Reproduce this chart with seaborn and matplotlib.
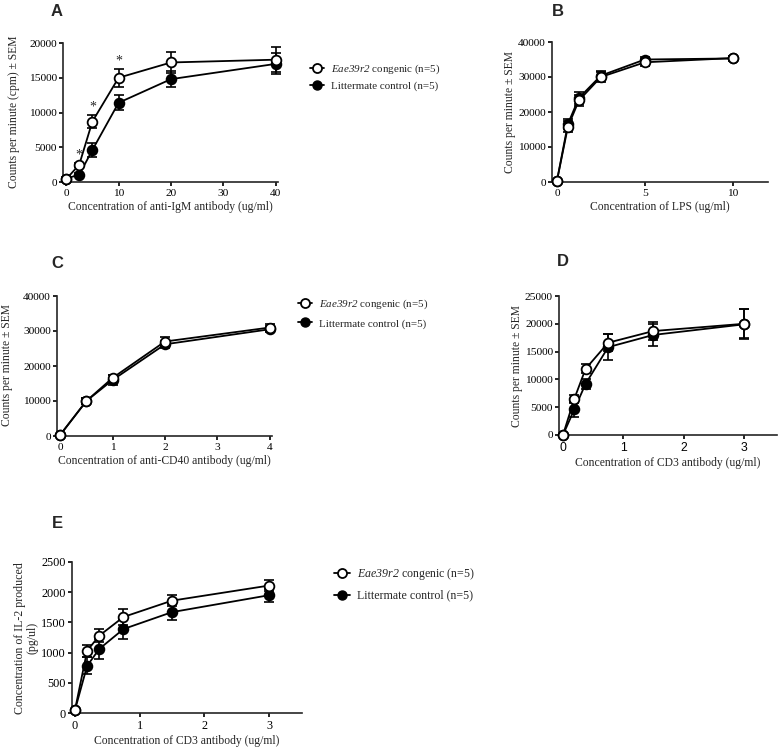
#panels A-E: proliferation / IL-2 dose responses, congenic vs littermate control

import numpy as np
import matplotlib
matplotlib.use("Agg")
import matplotlib.pyplot as plt
import seaborn as sns
from matplotlib.lines import Line2D

##### data #####

# A - anti-IgM
a_x = [0, 2.5, 5, 10, 20, 40]
a_cong = [400, 2500, 8700, 15000, 17200, 17600]
a_cong_err = [150, 300, 1000, 1300, 1450, 1800]
a_ctrl = [500, 1050, 4600, 11400, 14800, 17000]
a_ctrl_err = [150, 250, 950, 1100, 1100, 1500]
a_sig_x = [2.5, 5, 10]

# B - LPS
b_x = [0, 0.625, 1.25, 2.5, 5, 10]
b_cong = [300, 15800, 23300, 30000, 34200, 35400]
b_cong_err = [150, 1600, 1500, 1300, 1000, 600]
b_ctrl = [300, 16600, 24000, 30400, 35000, 35300]
b_ctrl_err = [150, 1500, 1600, 1200, 800, 600]

# C - anti-CD40
c_x = [0, 0.5, 1, 2, 4]
c_cong = [300, 10000, 16600, 27000, 31000]
c_cong_err = [150, 800, 900, 1300, 1000]
c_ctrl = [300, 10000, 16000, 26200, 30500]
c_ctrl_err = [150, 800, 1300, 1000, 900]

# D - CD3 proliferation
d_x = [0, 0.1875, 0.375, 0.75, 1.5, 3]
d_cong = [0, 6500, 11900, 16600, 18700, 20000]
d_cong_err = [100, 700, 800, 1500, 1600, 2600]
d_ctrl = [0, 4600, 9200, 15800, 18000, 19900]
d_ctrl_err = [100, 1300, 900, 2400, 2000, 2700]

# E - CD3 IL-2
e_x = [0, 0.1875, 0.375, 0.75, 1.5, 3]
e_cong = [50, 1030, 1280, 1590, 1860, 2110]
e_cong_err = [10, 100, 110, 125, 95, 95]
e_ctrl = [50, 780, 1060, 1390, 1670, 1950]
e_ctrl_err = [10, 140, 160, 170, 130, 110]

# gene name is italic: math rm font is pointed at the italic face below
cong_label = r"$\mathrm{Eae39r2}$ congenic (n=5)"
ctrl_label = "Littermate control (n=5)"

##### style #####
sns.set_theme(style="ticks")
plt.rcParams['font.family'] = ['Liberation Serif', 'DejaVu Serif']
plt.rcParams['mathtext.fontset'] = 'custom'
plt.rcParams['mathtext.it'] = 'Liberation Serif:italic'
plt.rcParams['mathtext.rm'] = 'Liberation Serif:italic'
plt.rcParams['axes.linewidth'] = 1.2
plt.rcParams['xtick.major.width'] = 1.2
plt.rcParams['ytick.major.width'] = 1.2
plt.rcParams['xtick.major.size'] = 3
plt.rcParams['ytick.major.size'] = 3
plt.rcParams['xtick.major.pad'] = 2
plt.rcParams['ytick.major.pad'] = 1.5

W, H = 778, 754
fig = plt.figure(figsize=(W / 100, H / 100), dpi=100)

LABEL_FS = 8.4
TICK_FS = 8.2


def add_axes(left, right, top, bottom):
    return fig.add_axes([left / W, 1 - bottom / H, (right - left) / W, (bottom - top) / H])


def draw_series(ax, x, y, err, filled):
    face = 'black' if filled else 'white'
    ax.errorbar(x, y, yerr=err, fmt='none', ecolor='black', elinewidth=1.2,
                capsize=3.3, capthick=1.2, clip_on=False, zorder=2)
    sns.lineplot(x=x, y=y, ax=ax, color='black', linewidth=1.3, marker='o',
                 markersize=7, markerfacecolor=face, markeredgecolor='black',
                 markeredgewidth=1.3, clip_on=False, zorder=3 if filled else 4)


def panel(ax, x, cong, cong_err, ctrl, ctrl_err, xlim, ylim, xticks, yticks,
          xlabel, tick_fs=TICK_FS):
    draw_series(ax, x, ctrl, ctrl_err, True)
    draw_series(ax, x, cong, cong_err, False)
    ax.set_xlim(*xlim)
    ax.set_ylim(*ylim)
    ax.set_xticks(xticks)
    ax.set_yticks(yticks)
    ax.tick_params(labelsize=tick_fs, colors='black')
    ax.set_xlabel(xlabel, fontsize=LABEL_FS, labelpad=2)
    ax.set_ylabel("")
    sns.despine(ax=ax)


def fig_text(x, y, s, **kw):
    fig.text(x / W, 1 - y / H, s, **kw)


def legend(x, y, fs=7.9, spacing=0.45):
    handles = [
        Line2D([], [], color='black', lw=1.3, marker='o', markersize=6.5,
               markerfacecolor='white', markeredgecolor='black', markeredgewidth=1.3),
        Line2D([], [], color='black', lw=1.3, marker='o', markersize=6.5,
               markerfacecolor='black', markeredgecolor='black'),
    ]
    fig.legend(handles, [cong_label, ctrl_label], loc='upper left',
               bbox_to_anchor=(x / W, 1 - y / H), frameon=False, fontsize=fs,
               handlelength=1.3, handletextpad=0.6, labelspacing=spacing,
               borderpad=0, borderaxespad=0)


# A
axA = add_axes(63, 278, 43, 182)
panel(axA, a_x, a_cong, a_cong_err, a_ctrl, a_ctrl_err, (-0.6, 40.4), (0, 20000),
      [0, 10, 20, 30, 40], [0, 5000, 10000, 15000, 20000],
      "Concentration of anti-IgM antibody (ug/ml)")
for sx in a_sig_x:
    i = a_x.index(sx)
    axA.text(sx, a_cong[i] + a_cong_err[i] + 150, "*", ha='center', va='bottom',
             fontsize=10)
fig_text(14, 112, "Counts per minute (cpm) \u00b1 SEM", rotation=90, ha='center',
         va='center', fontsize=LABEL_FS)
legend(310, 63)

# B
axB = add_axes(552, 768, 42, 182)
panel(axB, b_x, b_cong, b_cong_err, b_ctrl, b_ctrl_err, (-0.28, 12), (0, 40000),
      [0, 5, 10], [0, 10000, 20000, 30000, 40000],
      "Concentration of LPS (ug/ml)")
fig_text(510, 112, "Counts per minute \u00b1 SEM", rotation=90, ha='center',
         va='center', fontsize=LABEL_FS)

# C
axC = add_axes(57, 272, 296, 436)
panel(axC, c_x, c_cong, c_cong_err, c_ctrl, c_ctrl_err, (-0.06, 4.04), (0, 40000),
      [0, 1, 2, 3, 4], [0, 10000, 20000, 30000, 40000],
      "Concentration of anti-CD40 antibody (ug/ml)")
fig_text(7, 365, "Counts per minute \u00b1 SEM", rotation=90, ha='center',
         va='center', fontsize=LABEL_FS)
legend(298, 298, spacing=0.65)

# D
axD = add_axes(559, 777, 296, 435)
panel(axD, d_x, d_cong, d_cong_err, d_ctrl, d_ctrl_err, (-0.066, 3.55), (0, 25000),
      [0, 1, 2, 3], [0, 5000, 10000, 15000, 20000, 25000],
      "Concentration of CD3 antibody (ug/ml)")
for lab in axD.get_xticklabels():
    lab.set_family('Liberation Sans')
    lab.set_fontsize(8.8)
fig_text(517, 366, "Counts per minute \u00b1 SEM", rotation=90, ha='center',
         va='center', fontsize=LABEL_FS)

# E
axE = add_axes(72, 302, 562, 713)
panel(axE, e_x, e_cong, e_cong_err, e_ctrl, e_ctrl_err, (-0.046, 3.51), (0, 2500),
      [0, 1, 2, 3], [0, 500, 1000, 1500, 2000, 2500],
      "Concentration of CD3 antibody (ug/ml)", tick_fs=8.8)
fig_text(26, 638, "Concentration of IL-2 produced\n(pg/ul)", rotation=90,
         ha='center', va='center', fontsize=8.6, linespacing=1.1)
legend(334, 566, fs=8.6, spacing=0.65)

# panel letters
for letter, (px, py) in {"A": (57, 12), "B": (558, 12), "C": (57, 263),
                         "D": (563, 262), "E": (57, 524)}.items():
    fig_text(px, py, letter, ha='center', va='center', fontsize=12,
             fontweight='bold', family='Liberation Sans')

fig.savefig("out.png", dpi=100)
